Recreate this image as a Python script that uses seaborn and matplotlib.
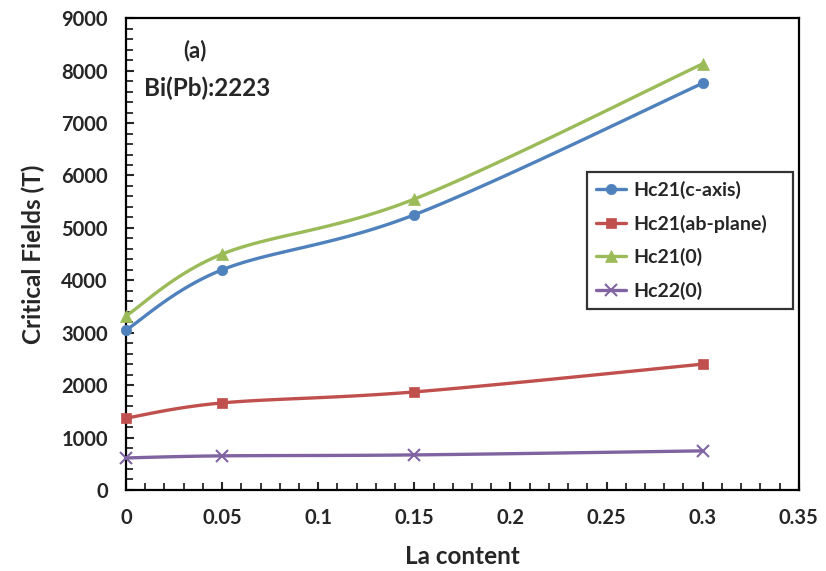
import numpy as np
import matplotlib
matplotlib.use("Agg")
import matplotlib.pyplot as plt
import seaborn as sns
from matplotlib.lines import Line2D

la_content = [0, 0.05, 0.15, 0.3]
hc21_c_axis = [3050, 4200, 5250, 7760]
hc21_ab_plane = [1370, 1660, 1870, 2400]
hc21_zero = [3320, 4500, 5550, 8130]
hc22_zero = [610, 650, 668, 745]

series = [
    ("Hc21(c-axis)", hc21_c_axis, "#4F81BD", "o", 7.5),
    ("Hc21(ab-plane)", hc21_ab_plane, "#C0504D", "s", 7.5),
    ("Hc21(0)", hc21_zero, "#9BBB59", "^", 8),
    ("Hc22(0)", hc22_zero, "#8064A2", "x", 8.5),
]

XMAX, YMAX = 0.35, 9000


def smooth(xs, ys, sx, sy, n=40):
    # excel-like smoothed line (catmull-rom bezier in screen space)
    p = np.column_stack([np.array(xs) / XMAX * sx, np.array(ys) / YMAX * sy])
    p = np.vstack([p[0], p, p[-1]])
    out = []
    t = np.linspace(0, 1, n)[:, None]
    for i in range(1, len(p) - 2):
        p0, p1, p2, p3 = p[i - 1], p[i], p[i + 1], p[i + 2]
        c1 = p1 + (p2 - p0) / 6
        c2 = p2 - (p3 - p1) / 6
        seg = ((1 - t) ** 3) * p1 + 3 * ((1 - t) ** 2) * t * c1 + 3 * (1 - t) * t ** 2 * c2 + t ** 3 * p2
        out.append(seg)
    out = np.vstack(out)
    return out[:, 0] / sx * XMAX, out[:, 1] / sy * YMAX


sns.set_style("white")
plt.rcParams['font.family'] = ['Lato', 'DejaVu Sans']
plt.rcParams['font.weight'] = 'bold'

fig = plt.figure(figsize=(8.26, 5.71), dpi=100)
ax = fig.add_axes([0.1525, 0.142, 0.8145, 0.826])

handles = []
for name, vals, color, marker, ms in series:
    cx, cy = smooth(la_content, vals, 673, 472)
    sns.lineplot(x=cx, y=cy, ax=ax, color=color, linewidth=2.4, sort=False, estimator=None)
    mew = 1.5 if marker == "x" else 0.5
    ax.plot(la_content, vals, linestyle="none", marker=marker, color=color,
            markersize=ms, markeredgewidth=mew, clip_on=False, zorder=5)
    handles.append(Line2D([0], [0], color=color, linewidth=2.4, marker=marker,
                          markersize=ms, markeredgewidth=mew, label=name))

ax.set_xlim(0, XMAX)
ax.set_ylim(0, YMAX)
ax.set_xticks(np.arange(0, 0.351, 0.05))
ax.set_xticklabels(["0", "0.05", "0.1", "0.15", "0.2", "0.25", "0.3", "0.35"])
ax.set_yticks(np.arange(0, 9001, 1000))
ax.set_xticks(np.arange(0, 0.351, 0.01), minor=True)
ax.set_yticks(np.arange(0, 9001, 200), minor=True)
ax.tick_params(axis="both", which="major", direction="in", length=6, width=1.5,
               labelsize=14.5, pad=13, left=True, bottom=True)
ax.tick_params(axis="both", which="minor", direction="in", length=5, width=1.3,
               left=True, bottom=True)
for s in ax.spines.values():
    s.set_color("black")
    s.set_linewidth(1.6)

ax.set_xlabel("La content", fontsize=17.5, fontweight="bold", labelpad=12)
ax.set_ylabel("Critical Fields (T)", fontsize=17.5, fontweight="bold", labelpad=12)

ax.text(0.1025, 0.932, "(a)", transform=ax.transAxes, fontsize=16, fontweight="bold", ha="center", va="center")
ax.text(0.12, 0.852, "Bi(Pb):2223", transform=ax.transAxes, fontsize=17.5, fontweight="bold", ha="center", va="center")

leg = ax.legend(handles=handles, loc="upper left", bbox_to_anchor=(0.686, 0.674, 0.305, 0.0),
                mode="expand", borderaxespad=0, frameon=True, fancybox=False, fontsize=14,
                handlelength=1.55, labelspacing=0.8, borderpad=0.45, handletextpad=0.35)
leg.get_frame().set_edgecolor("black")
leg.get_frame().set_linewidth(1.6)

fig.savefig("out.png", dpi=100, facecolor="white")
